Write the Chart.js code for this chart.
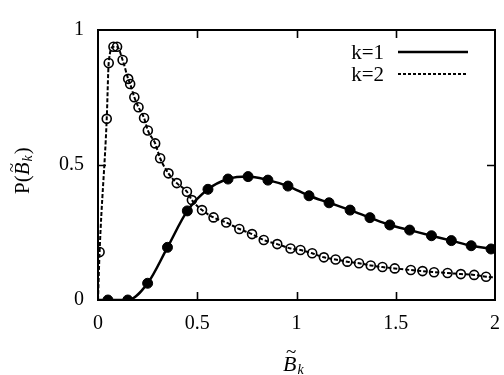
<!DOCTYPE html>
<html>
<head>
<meta charset="utf-8">
<script src="https://cdn.jsdelivr.net/npm/chart.js@4/dist/chart.umd.min.js"></script>
<style>
  html, body { margin: 0; padding: 0; background: #fff; }
  #wrap { width: 504px; height: 375px; position: relative; }
</style>
</head>
<body>
<div id="wrap"><canvas id="c" width="504" height="375"></canvas></div>
<script>
// ---- data ----
const k1X = [0.05, 0.15, 0.25, 0.35, 0.45, 0.554, 0.655, 0.756, 0.856, 0.957,
             1.063, 1.164, 1.27, 1.37, 1.47, 1.57, 1.68, 1.78, 1.88, 1.98];
const k1Y = [0.0, 0.0, 0.062, 0.195, 0.33, 0.41, 0.448, 0.457, 0.444, 0.422,
             0.386, 0.36, 0.333, 0.305, 0.278, 0.259, 0.238, 0.22, 0.201, 0.189];

const k2X = [0.008, 0.044, 0.054, 0.078, 0.096, 0.124, 0.152, 0.162, 0.183, 0.204,
             0.232, 0.251, 0.288, 0.313, 0.355, 0.397, 0.448, 0.473, 0.524, 0.582,
             0.646, 0.712, 0.776, 0.835, 0.903, 0.97, 1.02, 1.079, 1.138, 1.197,
             1.256, 1.315, 1.374, 1.433, 1.495, 1.576, 1.635, 1.693, 1.761, 1.828,
             1.895, 1.955];
const k2Y = [0.178, 0.671, 0.878, 0.938, 0.938, 0.889, 0.819, 0.80, 0.751, 0.714,
             0.674, 0.628, 0.58, 0.525, 0.469, 0.433, 0.401, 0.37, 0.333, 0.306,
             0.287, 0.263, 0.244, 0.222, 0.207, 0.191, 0.185, 0.173, 0.158, 0.15,
             0.142, 0.136, 0.128, 0.122, 0.117, 0.111, 0.107, 0.103, 0.1, 0.096,
             0.093, 0.086];

// ends of the continuous curves (beyond the first/last markers)
const k1CurveStart = [0, 0];
const k1CurveEnd = [2, 0.186];
const k2CurveStart = [0, 0];
const k2CurveEnd = [2, 0.084];

const seriesLabels = ['k=1', 'k=2'];
const xTickValues = [0, 0.5, 1, 1.5, 2];
const xTickLabels = ['0', '0.5', '1', '1.5', '2'];
const yTickValues = [0, 0.5, 1];
const yTickLabels = ['0', '0.5', '1'];

const toPts = (xs, ys) => xs.map((x, i) => ({ x: x, y: ys[i] }));
const curve = (s, xs, ys, e) => [{ x: s[0], y: s[1] }].concat(toPts(xs, ys), [{ x: e[0], y: e[1] }]);

const SERIF = '"Liberation Serif", "DejaVu Serif", serif';

const framePlugin = {
  id: 'frame',
  afterDraw(chart) {
    const ctx = chart.ctx;
    const a = chart.chartArea;
    const xs = chart.scales.x, ys = chart.scales.y;
    ctx.save();
    ctx.strokeStyle = '#000';
    ctx.lineWidth = 2;
    ctx.strokeRect(a.left, a.top, a.right - a.left, a.bottom - a.top);
    // inward ticks
    ctx.lineWidth = 1.6;
    const tl = 8;
    xTickValues.slice(1, -1).forEach(v => {
      const px = Math.round(xs.getPixelForValue(v)) + 0.5;
      ctx.beginPath();
      ctx.moveTo(px, a.bottom); ctx.lineTo(px, a.bottom - tl);
      ctx.moveTo(px, a.top); ctx.lineTo(px, a.top + tl);
      ctx.stroke();
    });
    yTickValues.slice(1, -1).forEach(v => {
      const py = Math.round(ys.getPixelForValue(v)) + 0.5;
      ctx.beginPath();
      ctx.moveTo(a.left, py); ctx.lineTo(a.left + tl, py);
      ctx.moveTo(a.right, py); ctx.lineTo(a.right - tl, py);
      ctx.stroke();
    });

    // legend (text then line sample)
    ctx.fillStyle = '#000';
    ctx.font = '21px ' + SERIF;
    ctx.textAlign = 'right';
    ctx.textBaseline = 'middle';
    const lx0 = 398, lx1 = 468;
    const rows = [52, 74];
    seriesLabels.forEach((lab, i) => {
      ctx.fillText(lab, 384, rows[i] + 1);
      ctx.beginPath();
      ctx.lineWidth = i === 0 ? 2.5 : 2;
      ctx.setLineDash(i === 0 ? [] : [3, 2]);
      ctx.moveTo(lx0, rows[i]); ctx.lineTo(lx1, rows[i]);
      ctx.stroke();
    });
    ctx.setLineDash([]);

    // x-axis title: B~ with subscript k
    ctx.textAlign = 'left';
    ctx.textBaseline = 'alphabetic';
    ctx.font = 'italic 22px ' + SERIF;
    const bx = 283, by = 371;
    ctx.fillText('B', bx, by);
    const bw = ctx.measureText('B').width;
    ctx.font = 'italic 14px ' + SERIF;
    ctx.fillText('k', bx + bw + 1, by + 3);
    ctx.font = '19px ' + SERIF;
    ctx.fillText('~', bx + 3, by - 13);

    // y-axis title: P(B~k) rotated
    ctx.save();
    ctx.translate(29, 194);
    ctx.rotate(-Math.PI / 2);
    ctx.font = '21px ' + SERIF;
    let cx = 0;
    ctx.fillText('P(', cx, 0);
    cx += ctx.measureText('P(').width;
    ctx.font = 'italic 21px ' + SERIF;
    ctx.fillText('B', cx, 0);
    const bw2 = ctx.measureText('B').width;
    ctx.font = '17px ' + SERIF;
    ctx.fillText('~', cx + 3, -12);
    cx += bw2 + 1;
    ctx.font = 'italic 14px ' + SERIF;
    ctx.fillText('k', cx, 3);
    cx += ctx.measureText('k').width + 1;
    ctx.font = '21px ' + SERIF;
    ctx.fillText(')', cx, 0);
    ctx.restore();

    ctx.restore();
  }
};

new Chart(document.getElementById('c'), {
  type: 'scatter',
  data: {
    datasets: [
      {
        label: seriesLabels[0] + ' curve',
        data: curve(k1CurveStart, k1X, k1Y, k1CurveEnd),
        showLine: true,
        borderColor: '#000',
        borderWidth: 2.5,
        cubicInterpolationMode: 'monotone',
        pointRadius: 0
      },
      {
        label: seriesLabels[1] + ' curve',
        data: curve(k2CurveStart, k2X, k2Y, k2CurveEnd),
        showLine: true,
        borderColor: '#000',
        borderWidth: 2,
        borderDash: [4, 2],
        cubicInterpolationMode: 'monotone',
        pointRadius: 0
      },
      {
        label: seriesLabels[0],
        data: toPts(k1X, k1Y),
        showLine: false,
        pointStyle: 'circle',
        pointRadius: 5,
        pointBackgroundColor: '#000',
        pointBorderColor: '#000',
        pointBorderWidth: 1
      },
      {
        label: seriesLabels[1],
        data: toPts(k2X, k2Y),
        showLine: false,
        pointStyle: 'circle',
        pointRadius: 4.5,
        pointBackgroundColor: 'rgba(0,0,0,0)',
        pointBorderColor: '#000',
        pointBorderWidth: 1.6
      }
    ]
  },
  options: {
    responsive: false,
    animation: false,
    devicePixelRatio: 1,
    layout: { padding: { top: 30, right: 9, left: 0, bottom: 0 } },
    plugins: { legend: { display: false }, tooltip: { enabled: false } },
    scales: {
      x: {
        type: 'linear',
        min: 0, max: 2,
        afterFit(s) { s.height = 75; s.paddingRight = 0; s.paddingLeft = 0; },
        afterBuildTicks(s) { s.ticks = xTickValues.map(v => ({ value: v })); },
        grid: { display: false, drawTicks: false },
        border: { display: false },
        ticks: {
          color: '#000',
          padding: 12,
          maxRotation: 0,
          autoSkip: false,
          font: { family: SERIF, size: 20 },
          callback: (v) => { const i = xTickValues.indexOf(v); return i >= 0 ? xTickLabels[i] : ''; }
        }
      },
      y: {
        type: 'linear',
        min: 0, max: 1,
        afterFit(s) { s.width = 98; s.paddingTop = 0; s.paddingBottom = 0; },
        afterBuildTicks(s) { s.ticks = yTickValues.map(v => ({ value: v })); },
        grid: { display: false, drawTicks: false },
        border: { display: false },
        ticks: {
          color: '#000',
          padding: 14,
          autoSkip: false,
          font: { family: SERIF, size: 20 },
          callback: (v) => { const i = yTickValues.indexOf(v); return i >= 0 ? yTickLabels[i] : ''; }
        }
      }
    }
  },
  plugins: [framePlugin]
});
</script>
</body>
</html>
